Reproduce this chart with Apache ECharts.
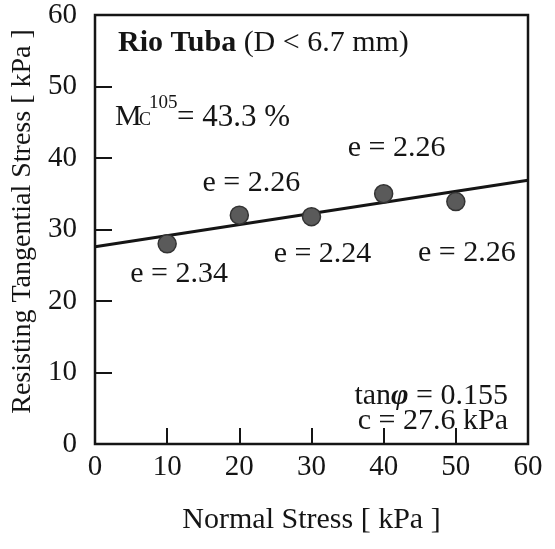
<!DOCTYPE html>
<html>
<head>
<meta charset="utf-8">
<script src="https://cdn.jsdelivr.net/npm/echarts@6/dist/echarts.min.js"></script>
<style>
  html, body { margin: 0; padding: 0; background: #fff; }
  #chart { width: 555px; height: 549px; }
</style>
</head>
<body>
<div id="chart"></div>
<script>
// Direct shear results, Rio Tuba sample (D < 6.7 mm)
const normalStress = [10, 20, 30, 40, 50];          // kPa
const shearStress = [28.0, 32.0, 31.8, 35.0, 33.9];   // kPa
const voidRatio = ['2.34', '2.26', '2.24', '2.26', '2.26'];
const xTicks = [0, 10, 20, 30, 40, 50, 60];
const yTicks = [0, 10, 20, 30, 40, 50, 60];
// Mohr-Coulomb fit: tau = c + sigma * tan(phi)
const cohesion = 27.6;
const tanPhi = 0.155;

// label placement around each point (dx, dy in px)
const labelOffsets = [[12, 30], [12, -32], [11, 37], [13, -46], [11, 52]];

const FONT = '"Liberation Serif", "Times New Roman", serif';
const INK = '#151515';

const fitLine = [0, 60].map(s => [s, +(cohesion + tanPhi * s).toFixed(3)]);

const chart = echarts.init(document.getElementById('chart'), null, { renderer: 'canvas' });

chart.setOption({
  backgroundColor: '#fff',
  animation: false,
  grid: {
    left: 95, right: 27, top: 15, bottom: 105,
    show: true, borderColor: INK, borderWidth: 2.5, backgroundColor: 'transparent'
  },
  xAxis: {
    type: 'value', min: 0, max: 60, interval: 10,
    name: 'Normal Stress [ kPa ]',
    nameLocation: 'middle', nameGap: 61,
    nameTextStyle: { fontFamily: FONT, fontSize: 30, color: INK },
    axisLine: { show: false },
    axisTick: { show: true, inside: true, length: 16, customValues: [10, 20, 30, 40, 50],
      lineStyle: { color: INK, width: 2 } },
    axisLabel: { customValues: xTicks, margin: 9, fontFamily: FONT, fontSize: 29, color: INK },
    splitLine: { show: false }
  },
  yAxis: {
    type: 'value', min: 0, max: 60, interval: 10,
    name: 'Resisting Tangential Stress [ kPa ]',
    nameLocation: 'middle', nameGap: 57, nameRotate: 90,
    nameTextStyle: { fontFamily: FONT, fontSize: 28, color: INK, padding: [0, 0, 0, 16] },
    axisLine: { show: false },
    axisTick: { show: true, inside: true, length: 17, customValues: [10, 20, 30, 40, 50],
      lineStyle: { color: INK, width: 2 } },
    axisLabel: { customValues: yTicks, margin: 18, fontFamily: FONT, fontSize: 29, color: INK },
    splitLine: { show: false }
  },
  series: [
    {
      type: 'line',
      data: fitLine,
      symbol: 'none',
      lineStyle: { color: INK, width: 3 },
      z: 2
    },
    {
      type: 'scatter',
      symbol: 'circle',
      symbolSize: 18,
      itemStyle: { color: '#5a5a5a', borderColor: '#333', borderWidth: 1.5, opacity: 1 },
      data: normalStress.map((s, i) => ({
        value: [s, shearStress[i]],
        label: {
          show: true,
          position: 'inside',
          offset: labelOffsets[i],
          formatter: 'e = ' + voidRatio[i],
          fontFamily: FONT, fontSize: 30, color: INK,
          textBorderWidth: 0
        }
      })),
      z: 3
    }
  ],
  graphic: [
    {
      type: 'text', left: 118, top: 28,
      style: {
        text: '{b|Rio Tuba} (D < 6.7 mm)',
        font: '30px ' + FONT, fill: INK,
        rich: { b: { fontFamily: FONT, fontSize: 30, fontWeight: 'bold', fill: INK } }
      }
    },
    // moisture content, M with superscript 105 over a small C
    { type: 'text', left: 115, top: 102, style: { text: 'M', font: '30px ' + FONT, fill: INK } },
    { type: 'text', left: 139, top: 111, style: { text: 'C', font: '18px ' + FONT, fill: INK } },
    { type: 'text', left: 149, top: 94, style: { text: '105', font: '19px ' + FONT, fill: INK } },
    { type: 'text', left: 177, top: 102, style: { text: '= 43.3 %', font: '31px ' + FONT, fill: INK } },
    {
      type: 'text', right: 47, top: 381,
      style: {
        text: 'tan{p|φ} = ' + tanPhi.toFixed(3),
        font: '30px ' + FONT, fill: INK,
        rich: { p: { fontFamily: FONT, fontSize: 30, fontStyle: 'italic', fontWeight: 'bold', fill: INK } }
      }
    },
    {
      type: 'text', right: 47, top: 406,
      style: { text: 'c = ' + cohesion.toFixed(1) + ' kPa', font: '30px ' + FONT, fill: INK }
    }
  ]
});
</script>
</body>
</html>
